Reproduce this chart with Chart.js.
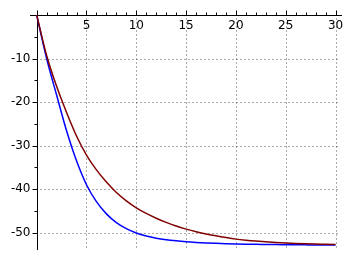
<!DOCTYPE html>
<html>
<head>
<meta charset="utf-8">
<script src="https://cdn.jsdelivr.net/npm/chart.js"></script>
<style>
  html, body { margin: 0; padding: 0; background: #fff; }
  canvas { display: block; }
</style>
</head>
<body>
<canvas id="myChart" width="352" height="260"></canvas>
<script>
const xVals = [0, 1, 2, 3, 4, 5, 6, 7, 8, 9, 10, 11, 12, 13, 14, 15,
               16, 17, 18, 19, 20, 21, 22, 23, 24, 25, 26, 27, 28, 29, 30];
const blueVals = [0, -10.0, -18.4, -26.6, -33.5, -39.0, -42.9, -45.7, -47.7, -49.1, -50.1,
                  -50.8, -51.3, -51.65, -51.9, -52.1, -52.25, -52.37, -52.47, -52.55, -52.61,
                  -52.66, -52.7, -52.73, -52.76, -52.78, -52.8, -52.82, -52.84, -52.85, -52.86];
const redVals = [0, -9.3, -16.4, -22.4, -27.8, -32.2, -35.6, -38.4, -40.8, -42.7, -44.3,
                 -45.6, -46.7, -47.65, -48.5, -49.2, -49.8, -50.3, -50.75, -51.15, -51.5,
                 -51.75, -51.95, -52.1, -52.25, -52.38, -52.48, -52.56, -52.63, -52.69, -52.75];

const xMajor = [5, 10, 15, 20, 25, 30];
const xMinor = [0, 1, 2, 3, 4, 6, 7, 8, 9, 11, 12, 13, 14, 16, 17, 18, 19, 21, 22, 23, 24, 26, 27, 28, 29];
const yMajor = [-10, -20, -30, -40, -50];
const yMinor = [-5, -15, -25, -35, -45];

const ctx = document.getElementById('myChart').getContext('2d');

// ejes estilo sage: eje x arriba (y=0), eje y a la izquierda (x=0)
const ejes = {
    id: 'ejes',
    beforeDatasetsDraw(chart) {
        const c = chart.ctx;
        const sx = chart.scales.x;
        const sy = chart.scales.y;
        const area = chart.chartArea;
        const x0 = Math.round(sx.getPixelForValue(0)) + 0.5;
        const y0 = Math.round(sy.getPixelForValue(0)) + 0.5;

        c.save();
        c.lineWidth = 1;

        // grilla punteada
        c.strokeStyle = '#555';
        c.setLineDash([1, 3]);
        xMajor.forEach(v => {
            const px = Math.round(sx.getPixelForValue(v)) + 0.5;
            c.beginPath();
            c.moveTo(px, y0 + 3);
            c.lineTo(px, area.bottom);
            c.stroke();
        });
        yMajor.forEach(v => {
            const py = Math.round(sy.getPixelForValue(v)) + 0.5;
            c.beginPath();
            c.moveTo(x0 + 3, py);
            c.lineTo(area.right - 2, py);
            c.stroke();
        });
        c.setLineDash([]);

        // lineas de ejes
        c.strokeStyle = '#000';
        c.beginPath();
        c.moveTo(area.left, y0);
        c.lineTo(area.right, y0);
        c.moveTo(x0, y0);
        c.lineTo(x0, area.bottom);
        c.stroke();

        // marcas
        c.beginPath();
        [0].concat(xMajor).forEach(v => {
            const px = Math.round(sx.getPixelForValue(v)) + 0.5;
            c.moveTo(px, y0);
            c.lineTo(px, y0 - 5);
        });
        xMinor.forEach(v => {
            const px = Math.round(sx.getPixelForValue(v)) + 0.5;
            c.moveTo(px, y0);
            c.lineTo(px, y0 - 3);
        });
        yMajor.forEach(v => {
            const py = Math.round(sy.getPixelForValue(v)) + 0.5;
            c.moveTo(x0, py);
            c.lineTo(x0 - 5, py);
        });
        yMinor.forEach(v => {
            const py = Math.round(sy.getPixelForValue(v)) + 0.5;
            c.moveTo(x0, py);
            c.lineTo(x0 - 3, py);
        });
        c.stroke();

        // etiquetas
        c.fillStyle = '#000';
        c.font = '12px "DejaVu Sans"';
        c.textAlign = 'center';
        c.textBaseline = 'middle';
        xMajor.forEach(v => {
            c.fillText(String(v), sx.getPixelForValue(v), y0 + 10);
        });
        c.textAlign = 'right';
        yMajor.forEach(v => {
            c.fillText(String(v), x0 - 7, sy.getPixelForValue(v));
        });
        c.restore();
    }
};

const chart = new Chart(ctx, {
    type: 'line',
    data: {
        datasets: [{
            label: 'rojo',
            data: xVals.map((x, i) => ({ x: x, y: redVals[i] })),
            borderColor: '#800000',
            borderWidth: 1.5,
            pointRadius: 0,
            cubicInterpolationMode: 'monotone',
            fill: false,
            clip: 4
        }, {
            label: 'azul',
            data: xVals.map((x, i) => ({ x: x, y: blueVals[i] })),
            borderColor: '#0000ff',
            borderWidth: 1.5,
            pointRadius: 0,
            cubicInterpolationMode: 'monotone',
            fill: false,
            clip: 4
        }]
    },
    options: {
        responsive: false,
        animation: false,
        layout: {
            padding: { left: 30, right: 10, top: 15, bottom: 10 }
        },
        scales: {
            x: { type: 'linear', min: -0.67, max: 30.65, display: false },
            y: { type: 'linear', min: -54, max: 0, display: false }
        },
        plugins: {
            legend: { display: false },
            tooltip: { enabled: false }
        }
    },
    plugins: [ejes]
});
</script>
</body>
</html>
